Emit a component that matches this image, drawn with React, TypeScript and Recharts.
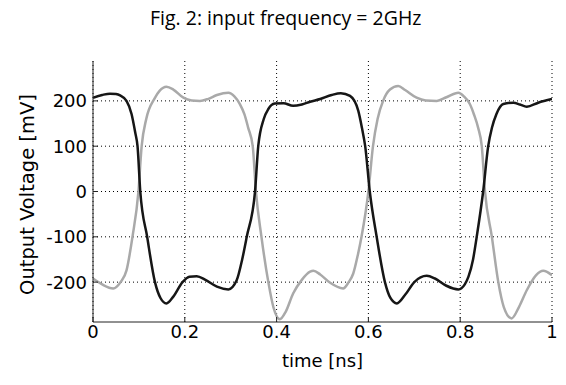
import React from "react";
import { LineChart, Line, CartesianGrid, XAxis, YAxis, Label } from "recharts";

// time [ns] / voltage [mV]
const blackTime = [
  0, 0.02, 0.037, 0.05, 0.059, 0.073, 0.084, 0.092, 0.097, 0.103, 0.118, 0.135,
  0.147, 0.16, 0.175, 0.195, 0.21, 0.226, 0.245, 0.27, 0.295, 0.313, 0.325,
  0.335, 0.353, 0.36, 0.372, 0.382, 0.396, 0.415, 0.436, 0.455, 0.473, 0.495,
  0.52, 0.54, 0.56, 0.578, 0.586, 0.593, 0.603, 0.618, 0.636, 0.648, 0.662,
  0.68, 0.7, 0.727, 0.745, 0.77, 0.796, 0.81, 0.818, 0.828, 0.836, 0.85, 0.861,
  0.869, 0.879, 0.894, 0.916, 0.93, 0.945, 0.97, 1.0,
];
const blackVolt = [
  207, 213, 216, 215, 212, 200, 171, 130, 100, 0, -100, -200, -235, -247, -232,
  -200, -188, -187, -195, -210, -216, -196, -150, -100, 0, 100, 160, 182, 194,
  195, 189, 192, 198, 204, 213, 217, 211, 178, 140, 100, 0, -100, -200, -235,
  -247, -228, -200, -186, -192, -208, -216, -205, -188, -150, -100, 0, 100, 140,
  171, 193, 196, 192, 187, 196, 204,
];

const grayTime = [
  0, 0.02, 0.044, 0.06, 0.073, 0.086, 0.099, 0.106, 0.116, 0.134, 0.145, 0.16,
  0.175, 0.197, 0.215, 0.233, 0.25, 0.27, 0.295, 0.308, 0.32, 0.33, 0.338,
  0.348, 0.355, 0.367, 0.382, 0.393, 0.407, 0.42, 0.436, 0.455, 0.473, 0.48,
  0.495, 0.516, 0.545, 0.557, 0.567, 0.577, 0.585, 0.6, 0.61, 0.62, 0.632,
  0.647, 0.665, 0.68, 0.705, 0.725, 0.749, 0.77, 0.796, 0.808, 0.821, 0.83,
  0.839, 0.847, 0.854, 0.869, 0.883, 0.895, 0.912, 0.928, 0.945, 0.965, 0.981,
  1.0,
];
const grayVolt = [
  -192, -205, -214, -200, -174, -100, 0, 100, 160, 205, 222, 231, 225, 207, 201,
  200, 204, 213, 218, 210, 193, 170, 141, 100, 0, -100, -200, -255, -282, -265,
  -225, -195, -177, -175, -183, -201, -214, -200, -181, -140, -100, 0, 100, 160,
  200, 225, 233, 224, 207, 201, 200, 208, 218, 210, 193, 170, 141, 100, 0, -100,
  -200, -255, -280, -255, -218, -185, -175, -185,
];

const xTicks = [0, 0.2, 0.4, 0.6, 0.8, 1];
const yTicks = [-200, -100, 0, 100, 200];

const blackData = blackTime.map((t, i) => ({ t, v: blackVolt[i] }));
const grayData = grayTime.map((t, i) => ({ t, v: grayVolt[i] }));

const tickFont = { fontFamily: "DejaVu Sans", fontSize: 18, fill: "#000" };

const YLabel = ({ viewBox }: any) => {
  const x = viewBox.x + 27;
  const y = viewBox.y + viewBox.height / 2 + 3;
  return (
    <text
      x={x}
      y={y}
      transform={`rotate(-90 ${x} ${y})`}
      textAnchor="middle"
      dominantBaseline="central"
      fontFamily="DejaVu Sans"
      fontSize={19.5}
      fill="#000"
    >
      Output Voltage [mV]
    </text>
  );
};

const XLabel = ({ viewBox }: any) => (
  <text
    x={viewBox.x + viewBox.width / 2}
    y={viewBox.y + 45}
    textAnchor="middle"
    fontFamily="DejaVu Sans"
    fontSize={18}
    fill="#000"
  >
    time [ns]
  </text>
);

export default function App() {
  return (
    <div
      style={{
        position: "fixed",
        left: 0,
        top: 0,
        width: 566,
        height: 385,
        background: "#fff",
      }}
    >
      <div
        style={{
          position: "absolute",
          left: 150,
          top: 5,
          whiteSpace: "nowrap",
          fontFamily: "Open Sans",
          fontSize: 19.5,
          lineHeight: "26px",
          color: "#000",
        }}
      >
        Fig. 2: input frequency = 2GHz
      </div>
      <LineChart
        width={566}
        height={385}
        margin={{ top: 61, right: 14, bottom: 0, left: 0 }}
      >
        <CartesianGrid
          stroke="#000"
          strokeDasharray="1 3"
          horizontalValues={yTicks}
          verticalValues={xTicks}
        />
        <XAxis
          dataKey="t"
          type="number"
          domain={[0, 1]}
          ticks={xTicks}
          allowDataOverflow
          interval={0}
          height={63}
          tick={tickFont}
          tickSize={-5}
          tickMargin={8}
          stroke="#222"
        >
          <Label content={<XLabel />} />
        </XAxis>
        <XAxis
          xAxisId="top"
          orientation="top"
          type="number"
          domain={[0, 1]}
          ticks={xTicks}
          allowDataOverflow
          interval={0}
          height={0}
          tick={false}
          tickSize={-5}
          stroke="#222"
        />
        <YAxis
          type="number"
          domain={[-288, 288]}
          ticks={yTicks}
          allowDataOverflow
          interval={0}
          width={93}
          tick={tickFont}
          tickSize={-5}
          tickMargin={11}
          stroke="#222"
        >
          <Label content={<YLabel />} />
        </YAxis>
        <YAxis
          yAxisId="right"
          orientation="right"
          type="number"
          domain={[-288, 288]}
          ticks={yTicks}
          allowDataOverflow
          interval={0}
          width={0}
          tick={false}
          tickSize={-5}
          stroke="#222"
        />
        <Line
          data={grayData}
          dataKey="v"
          type="monotone"
          stroke="#a9a9a9"
          strokeWidth={2.5}
          dot={false}
          isAnimationActive={false}
        />
        <Line
          data={blackData}
          dataKey="v"
          type="monotone"
          stroke="#161616"
          strokeWidth={2.5}
          dot={false}
          isAnimationActive={false}
        />
      </LineChart>
    </div>
  );
}
